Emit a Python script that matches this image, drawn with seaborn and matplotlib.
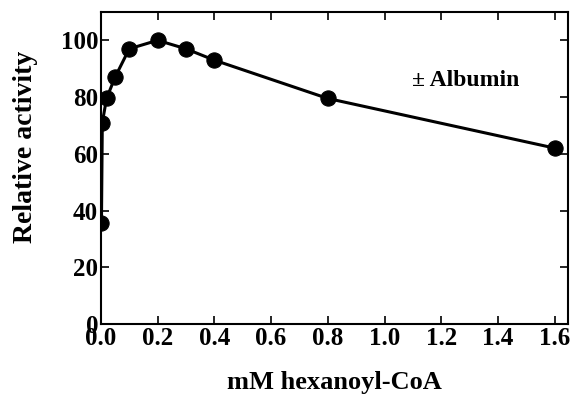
import numpy as np
import pandas as pd
import matplotlib
matplotlib.use("Agg")
import matplotlib.pyplot as plt
import seaborn as sns

# =========================
# DATA
# =========================

conc_mM = [0.002, 0.005, 0.02, 0.05, 0.1, 0.2, 0.3, 0.4, 0.8, 1.6]
rel_activity = [35.5, 71, 79.5, 87, 97, 100, 97, 93, 79.5, 62]

x_ticks = [0.0, 0.2, 0.4, 0.6, 0.8, 1.0, 1.2, 1.4, 1.6]
y_ticks = [0, 20, 40, 60, 80, 100]

df = pd.DataFrame({"conc": conc_mM, "activity": rel_activity})

# =========================
# STYLE
# =========================

sns.set_style("ticks")
plt.rcParams['font.family'] = ['Liberation Serif', 'DejaVu Serif']
plt.rcParams['font.weight'] = 'bold'
for key in ['text.color', 'axes.labelcolor', 'xtick.color', 'ytick.color', 'axes.edgecolor']:
    plt.rcParams[key] = 'black'

fig = plt.figure(figsize=(5.7, 3.98), dpi=100)
ax = fig.add_axes([0.177, 0.186, 0.819, 0.784])

sns.lineplot(
    data=df,
    x="conc",
    y="activity",
    color="black",
    linewidth=2.2,
    marker="o",
    markersize=11,
    markeredgecolor="black",
    markerfacecolor="black",
    ax=ax
)

ax.set_xlim(0, 1.646)
ax.set_ylim(0, 110)
ax.set_xticks(x_ticks)
ax.set_yticks(y_ticks)
ax.set_xticklabels([f"{t:.1f}" for t in x_ticks], fontsize=18, fontweight="bold")
ax.set_yticklabels([str(t) for t in y_ticks], fontsize=18, fontweight="bold")

ax.tick_params(direction="in", top=True, right=True, length=6, width=1.2, pad=2)
for s in ax.spines.values():
    s.set_linewidth(1.5)

ax.set_xlabel("mM hexanoyl-CoA", fontsize=19, fontweight="bold")
ax.set_ylabel("Relative activity", fontsize=20, fontweight="bold")
ax.xaxis.set_label_coords(0.5, -0.15)
ax.yaxis.set_label_coords(-0.135, 0.567)

ax.text(1.286, 86, "± Albumin", fontsize=17, fontweight="bold", ha="center", va="center")

plt.savefig("out.png", dpi=100)
plt.close()
